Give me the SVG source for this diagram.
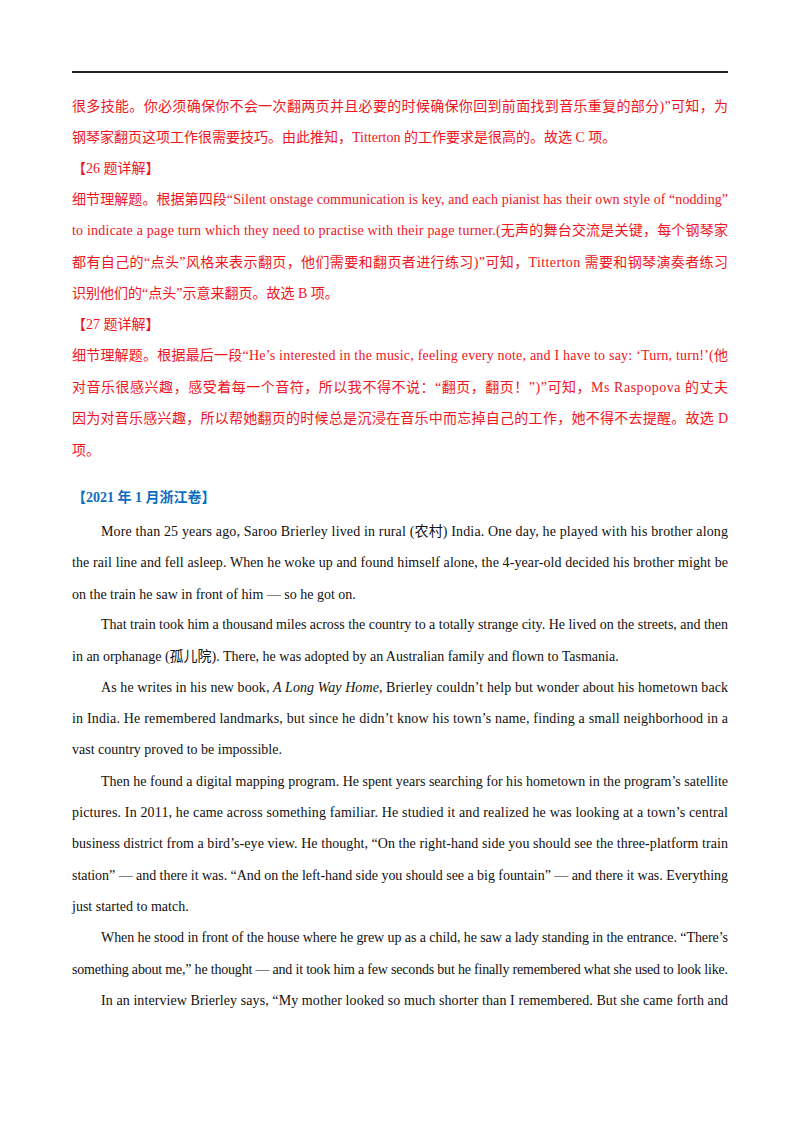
<svg xmlns="http://www.w3.org/2000/svg" width="800" height="1132" viewBox="0 0 800 1132">
<style>
text{font-family:"Liberation Serif","Noto Sans CJK SC",serif;font-size:14px}
.r{fill:#f0141e}
.k{fill:#111}
.b{fill:#0d6cc0;font-weight:bold}
</style>
<rect width="800" height="1132" fill="#fff"/>
<line x1="72" y1="72" x2="728" y2="72" stroke="#222" stroke-width="2"/>
<g class="r">
<text x="72" y="111" textLength="656" lengthAdjust="spacing">很多技能。你必须确保你不会一次翻两页并且必要的时候确保你回到前面找到音乐重复的部分)”可知，为</text>
<text x="72" y="142">钢琴家翻页这项工作很需要技巧。由此推知，Titterton 的工作要求是很高的。故选 C 项。</text>
<text x="72" y="173">【26 题详解】</text>
<text x="72" y="204" textLength="656" lengthAdjust="spacing">细节理解题。根据第四段“Silent onstage communication is key, and each pianist has their own style of “nodding”</text>
<text x="72" y="235" textLength="656" lengthAdjust="spacing">to indicate a page turn which they need to practise with their page turner.(无声的舞台交流是关键，每个钢琴家</text>
<text x="72" y="267" textLength="656" lengthAdjust="spacing">都有自己的“点头”风格来表示翻页，他们需要和翻页者进行练习)”可知，Titterton 需要和钢琴演奏者练习</text>
<text x="72" y="298">识别他们的“点头”示意来翻页。故选 B 项。</text>
<text x="72" y="329">【27 题详解】</text>
<text x="72" y="360" textLength="656" lengthAdjust="spacing">细节理解题。根据最后一段“He’s interested in the music, feeling every note, and I have to say: ‘Turn, turn!’(他</text>
<text x="72" y="392" textLength="656" lengthAdjust="spacing">对音乐很感兴趣，感受着每一个音符，所以我不得不说：“翻页，翻页！”)”可知，Ms Raspopova 的丈夫</text>
<text x="72" y="423" textLength="656" lengthAdjust="spacing">因为对音乐感兴趣，所以帮她翻页的时候总是沉浸在音乐中而忘掉自己的工作，她不得不去提醒。故选 D</text>
<text x="72" y="455">项。</text>
</g>
<text class="b" x="72" y="502">【2021 年 1 月浙江卷】</text>
<g class="k">
<text x="101" y="536" textLength="627" lengthAdjust="spacing">More than 25 years ago, Saroo Brierley lived in rural (农村) India. One day, he played with his brother along</text>
<text x="72" y="567" textLength="656" lengthAdjust="spacing">the rail line and fell asleep.  When he woke up and found himself alone, the 4-year-old decided his brother might be</text>
<text x="72" y="599">on the train he saw in front of him — so he got on.</text>
<text x="101" y="629" textLength="627" lengthAdjust="spacing">That train took him a thousand miles across the country to a totally strange city. He lived on the streets, and then</text>
<text x="72" y="661">in an orphanage (孤儿院). There, he was  adopted by an Australian family and flown to Tasmania.</text>
<text x="101" y="692" textLength="627" lengthAdjust="spacing">As he writes in his new book,  <tspan font-style="italic">A Long Way Home</tspan>, Brierley couldn’t help but wonder about his hometown back</text>
<text x="72" y="723" textLength="656" lengthAdjust="spacing">in India.  He remembered  landmarks, but since he didn’t know his town’s name, finding a small neighborhood in a</text>
<text x="72" y="754">vast  country proved to be impossible.</text>
<text x="101" y="786" textLength="627" lengthAdjust="spacing">Then he found a digital mapping program. He spent years searching for his hometown in the program’s satellite</text>
<text x="72" y="817" textLength="656" lengthAdjust="spacing">pictures. In 2011, he came across something familiar. He studied it and realized he was looking at a town’s central</text>
<text x="72" y="848" textLength="656" lengthAdjust="spacing">business  district  from a bird’s-eye view. He thought, “On the right-hand side you should see the three-platform train</text>
<text x="72" y="880" textLength="656" lengthAdjust="spacing">station” — and there it was. “And on the left-hand side you should see a big  fountain” — and there it was. Everything</text>
<text x="72" y="911">just started to match.</text>
<text x="101" y="942" textLength="627" lengthAdjust="spacing">When he stood in front of the house where he grew up as a child, he saw a lady standing in the entrance.  “There’s</text>
<text x="72" y="974" textLength="656" lengthAdjust="spacing">something about me,” he thought — and it took him a few seconds but he finally remembered what she used to look like.</text>
<text x="101" y="1005" textLength="627" lengthAdjust="spacing">In an interview Brierley says, “My mother looked so much shorter than I remembered.  But she came forth and</text>
</g>
</svg>
